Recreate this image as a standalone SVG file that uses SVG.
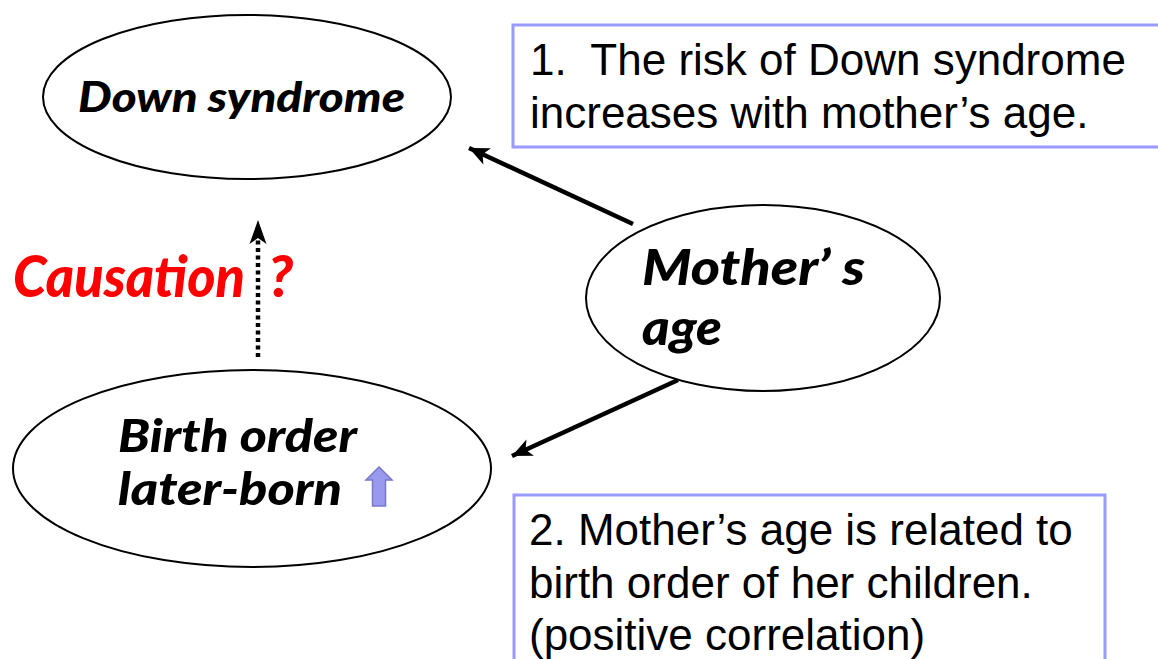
<svg xmlns="http://www.w3.org/2000/svg" width="1158" height="659" viewBox="0 0 1158 659">
<style>
.node{fill:#fff;stroke:#000;stroke-width:2}
.box{fill:#fff;stroke:#9999ff;stroke-width:3}
.pop{font-family:Lato,"Open Sans",sans-serif;font-weight:900;font-style:italic;fill:#000}
.note{font-family:"Liberation Sans",Arial,sans-serif;font-size:44px;fill:#000}
.conn{fill:none;stroke:#000;stroke-width:4.5}
</style>
<defs>
<marker id="ah" markerUnits="userSpaceOnUse" markerWidth="26" markerHeight="26" viewBox="0 0 26 26" refX="22" refY="13" orient="auto">
<path d="M2,4 L22,13 L2,22 L7,13 z" fill="#000"/>
</marker>
<marker id="ahd" markerUnits="userSpaceOnUse" markerWidth="30" markerHeight="30" viewBox="0 0 30 30" refX="4" refY="15" orient="auto">
<path d="M0,6.5 L24,15 L0,23.5 L6,15 z" fill="#000"/>
</marker>
</defs>
<rect width="1158" height="659" fill="#fff"/>

<g id="box1">
<rect class="box" x="513" y="25" width="660" height="122"/>
<text class="note" x="530" y="75" xml:space="preserve">1.  The risk of Down syndrome</text>
<text class="note" x="530" y="128">increases with mother’s age.</text>
</g>

<g id="box2">
<rect class="box" x="514" y="495" width="591" height="180"/>
<text class="note" x="529" y="545">2. Mother’s age is related to</text>
<text class="note" x="529" y="598">birth order of her children.</text>
<text class="note" x="529" y="650">(positive correlation)</text>
</g>

<g id="connectors">
<path class="conn" d="M633,224 L469,148" marker-end="url(#ah)"/>
<path class="conn" d="M678,380 L512,456" marker-end="url(#ah)"/>
<path class="conn" d="M258,357 L258,240" stroke-dasharray="4 3.5" marker-end="url(#ahd)"/>
</g>

<g id="down-syndrome">
<ellipse class="node" cx="247" cy="97" rx="204" ry="82"/>
<text class="pop" x="78" y="112" font-size="42" textLength="327" lengthAdjust="spacingAndGlyphs">Down syndrome</text>
</g>

<g id="mothers-age">
<ellipse class="node" cx="763" cy="298" rx="177" ry="93"/>
<text class="pop" x="642" y="285" font-size="49" textLength="223" lengthAdjust="spacingAndGlyphs">Mother’ s</text>
<text class="pop" x="642" y="345" font-size="49" textLength="80" lengthAdjust="spacingAndGlyphs">age</text>
</g>

<g id="birth-order">
<ellipse class="node" cx="252" cy="468.5" rx="239" ry="98.5"/>
<text class="pop" x="118" y="452" font-size="46" textLength="239" lengthAdjust="spacingAndGlyphs">Birth order</text>
<text class="pop" x="118" y="505" font-size="46" textLength="224" lengthAdjust="spacingAndGlyphs">later-born</text>
<path d="M379,467 L392,480 L385.5,480 L385.5,506 L372.5,506 L372.5,480 L366,480 z" fill="#9999ee" stroke="#7777cc" stroke-width="1.5"/>
</g>

<g id="causation">
<text class="pop" x="13" y="297" font-size="58" style="fill:#ff0000" textLength="232" lengthAdjust="spacingAndGlyphs">Causation</text>
<text class="pop" x="268" y="297" font-size="58" style="fill:#ff0000">?</text>
</g>
</svg>
